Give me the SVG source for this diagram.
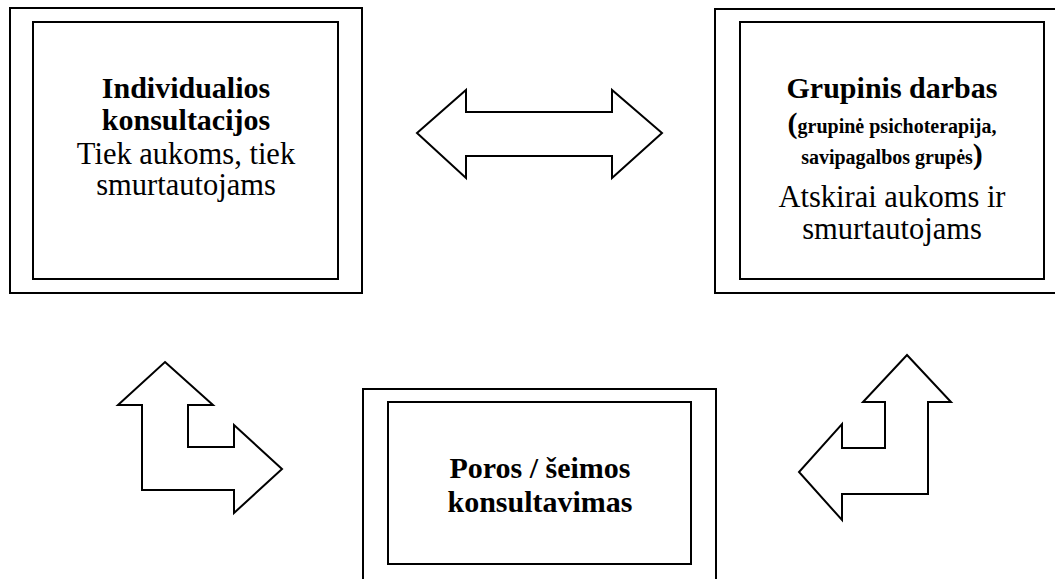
<svg xmlns="http://www.w3.org/2000/svg" width="1055" height="579" viewBox="0 0 1055 579">
<style>
.box{fill:#fff;stroke:#000;stroke-width:2}
.arr{fill:#fff;stroke:#000;stroke-width:2;stroke-linejoin:miter}
text{font-family:"Liberation Serif","Times New Roman",serif;fill:#000;text-anchor:middle}
.b{font-weight:bold;font-size:30px}
.r{font-size:30.5px}
.s{font-weight:bold;font-size:20px}
.p{font-weight:bold;font-size:30px}
</style>
<rect width="1055" height="579" fill="#fff"/>
<g id="connectors">
<polygon class="arr" points="417,133 466,90 466,112 612,112 612,90 662,133 612,178 612,156 466,156 466,178"/>
<polygon class="arr" points="165,362 213,405 188,405 188,447 234,447 234,425 282,469 234,513 234,490 142,490 142,405 118,405"/>
<polygon class="arr" points="907,355 951,402 928,402 928,494 842,494 842,520 799,472 842,424 842,448 885,448 885,402 863,402"/>
</g>
<g id="node-individual">
<rect class="box" x="10" y="8" width="352" height="285"/>
<rect class="box" x="33" y="22" width="305" height="257"/>
<text class="b" x="186" y="98">Individualios</text>
<text class="b" x="186" y="130">konsultacijos</text>
<text class="r" x="186" y="164">Tiek aukoms, tiek</text>
<text class="r" x="186" y="195">smurtautojams</text>
</g>
<g id="node-group">
<rect class="box" x="715" y="9" width="354" height="284"/>
<rect class="box" x="740" y="22" width="304" height="257"/>
<text class="b" x="892" y="98">Grupinis darbas</text>
<text class="s" x="892" y="133"><tspan class="p">(</tspan>grupinė psichoterapija,</text>
<text class="s" x="892" y="164">savipagalbos grupės<tspan class="p">)</tspan></text>
<text class="r" x="892" y="207">Atskirai aukoms ir</text>
<text class="r" x="892" y="239">smurtautojams</text>
</g>
<g id="node-family">
<rect class="box" x="363" y="389" width="353" height="210"/>
<rect class="box" x="388" y="402" width="303" height="162"/>
<text class="b" x="540" y="478">Poros / šeimos</text>
<text class="b" x="540" y="512">konsultavimas</text>
</g>
</svg>
